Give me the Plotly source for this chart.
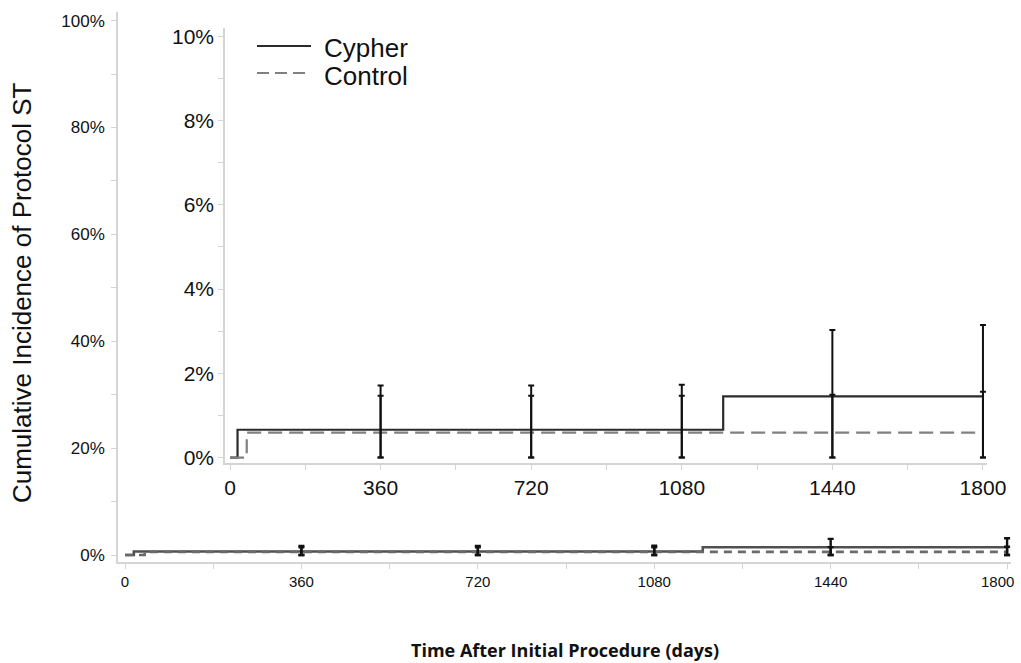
import plotly.graph_objects as go

# Step curves (time in days, cumulative incidence in %)
cypher_days = [0, 18, 1179, 1800]
cypher_pct = [0.0, 0.66, 1.45, 1.45]
control_days = [0, 40, 1800]
control_pct = [0.0, 0.59, 0.59]

# Confidence intervals at yearly landmarks (lower bound 0 %)
ci_days = [360, 720, 1080, 1440, 1800]
cypher_est = [0.66, 0.66, 0.66, 1.45, 1.45]
cypher_upper = [1.71, 1.71, 1.73, 3.03, 3.15]
control_est = [0.59, 0.59, 0.59, 0.59, 0.59]
control_upper = [1.47, 1.47, 1.47, 1.49, 1.56]

series_names = ["Cypher", "Control"]

main_ticks = [0, 360, 720, 1080, 1440, 1800]
main_yticks = [0, 20, 40, 60, 80, 100]
inset_yticks = [0, 2, 4, 6, 8, 10]

FONT = "Liberation Sans, Arial, sans-serif"
AXIS_GRAY = "#d4d4d4"


def frac(vals):
    return [v / 100.0 for v in vals]


fig = go.Figure()


def add_curves(xa, ya, width, err_w, cy_col, co_col, dash):
    fig.add_trace(go.Scatter(
        x=cypher_days, y=frac(cypher_pct), mode="lines", line_shape="hv",
        line=dict(color=cy_col, width=width), name=series_names[0],
        xaxis=xa, yaxis=ya, showlegend=False, hoverinfo="skip"))
    fig.add_trace(go.Scatter(
        x=control_days, y=frac(control_pct), mode="lines", line_shape="hv",
        line=dict(color=co_col, width=width, dash=dash), name=series_names[1],
        xaxis=xa, yaxis=ya, showlegend=False, hoverinfo="skip"))
    for est, up in ((cypher_est, cypher_upper), (control_est, control_upper)):
        fig.add_trace(go.Scatter(
            x=ci_days, y=frac(est), mode="markers",
            marker=dict(size=1, color="rgba(0,0,0,0)"),
            error_y=dict(type="data", symmetric=False,
                         array=frac([u - e for u, e in zip(up, est)]),
                         arrayminus=frac(est),
                         color="#111111", thickness=err_w, width=3),
            xaxis=xa, yaxis=ya, showlegend=False, hoverinfo="skip"))


# full-scale panel
add_curves("x", "y", 2.6, 2.4, "#505050", "#6a6a6a", "8px,6px")
# zoomed inset
add_curves("x2", "y2", 2.2, 2.0, "#2b2b2b", "#808080", "14px,7px")

axis_common = dict(showgrid=False, zeroline=False, showline=True,
                   linecolor=AXIS_GRAY, linewidth=1.5, ticks="outside",
                   tickcolor=AXIS_GRAY, ticklen=5, tickwidth=1.2,
                   automargin=False)

# the last label of the full-scale axis is placed separately, left of its
# tick, so it stays inside the page
main_xtext = [str(t) for t in main_ticks[:-1]] + [""]

fig.update_layout(
    width=1021, height=663,
    margin=dict(l=118, r=10, t=12, b=101, autoexpand=False),
    paper_bgcolor="white", plot_bgcolor="white",
    showlegend=False,
    font=dict(family=FONT, color="#111111"),
    xaxis=dict(range=[-14.3, 1808], tickvals=main_ticks,
               ticktext=main_xtext,
               minor=dict(ticks="outside", tickvals=[180, 540, 900, 1260, 1620],
                          ticklen=5, tickcolor=AXIS_GRAY),
               tickfont=dict(size=15, family=FONT), **axis_common),
    yaxis=dict(range=[-0.013, 1.016], tickvals=frac(main_yticks),
               ticktext=[f"{t}%" for t in main_yticks],
               minor=dict(ticks="outside", tickvals=frac([10, 30, 50, 70, 90]),
                          ticklen=5, tickcolor=AXIS_GRAY),
               tickfont=dict(size=17, family=FONT), ticklabelstandoff=3,
               **axis_common),
    xaxis2=dict(domain=[0.1198, 0.9731], anchor="y2",
                range=[-12, 1809.6], tickvals=main_ticks,
                ticktext=[str(t) for t in main_ticks],
                minor=dict(ticks="outside", tickvals=[180, 540, 900, 1260, 1620],
                           ticklen=5, tickcolor=AXIS_GRAY),
                tickfont=dict(size=21, family=FONT), **axis_common),
    yaxis2=dict(domain=[0.18, 0.9709], anchor="x2",
                range=[-0.0013, 0.102], tickvals=frac(inset_yticks),
                ticktext=[f"{t}%" for t in inset_yticks],
                minor=dict(ticks="outside", tickvals=frac([1, 3, 5, 7, 9]),
                           ticklen=5, tickcolor=AXIS_GRAY),
                tickfont=dict(size=21, family=FONT), **axis_common),
)

fig.add_annotation(text=str(main_ticks[-1]), xref="x", yref="paper",
                   x=main_ticks[-1], y=(562 - 581) / 550,
                   xanchor="right", yanchor="middle", xshift=9,
                   showarrow=False,
                   font=dict(size=15, family=FONT, color="#111111"))

# axis titles
fig.add_annotation(text="Cumulative Incidence of Protocol ST", textangle=-90,
                   xref="paper", yref="paper", x=-0.108, y=0.49,
                   xanchor="center", yanchor="middle", showarrow=False,
                   font=dict(size=26, family=FONT, color="#111111"))
fig.add_annotation(text="<b>Time After Initial Procedure (days)</b>",
                   xref="paper", yref="paper", x=(565 - 118) / 893, y=(562 - 650) / 550,
                   xanchor="center", yanchor="middle", showarrow=False,
                   font=dict(size=18, family="Open Sans, sans-serif", color="#111111"))

# inset key
fig.add_shape(type="line", xref="paper", yref="paper",
              x0=(257 - 118) / 893, x1=(311 - 118) / 893,
              y0=(562 - 46) / 550, y1=(562 - 46) / 550,
              line=dict(color="#2b2b2b", width=2.2))
fig.add_shape(type="line", xref="paper", yref="paper",
              x0=(257 - 118) / 893, x1=(311 - 118) / 893,
              y0=(562 - 73) / 550, y1=(562 - 73) / 550,
              line=dict(color="#808080", width=2.2, dash="12px,6px"))
for name, ypx in zip(series_names, [48, 76]):
    fig.add_annotation(text=name, xref="paper", yref="paper",
                       x=(322 - 118) / 893, y=(562 - ypx) / 550,
                       xanchor="left", yanchor="middle", showarrow=False,
                       font=dict(size=26, family=FONT, color="#111111"))

fig.write_html("out.html")
